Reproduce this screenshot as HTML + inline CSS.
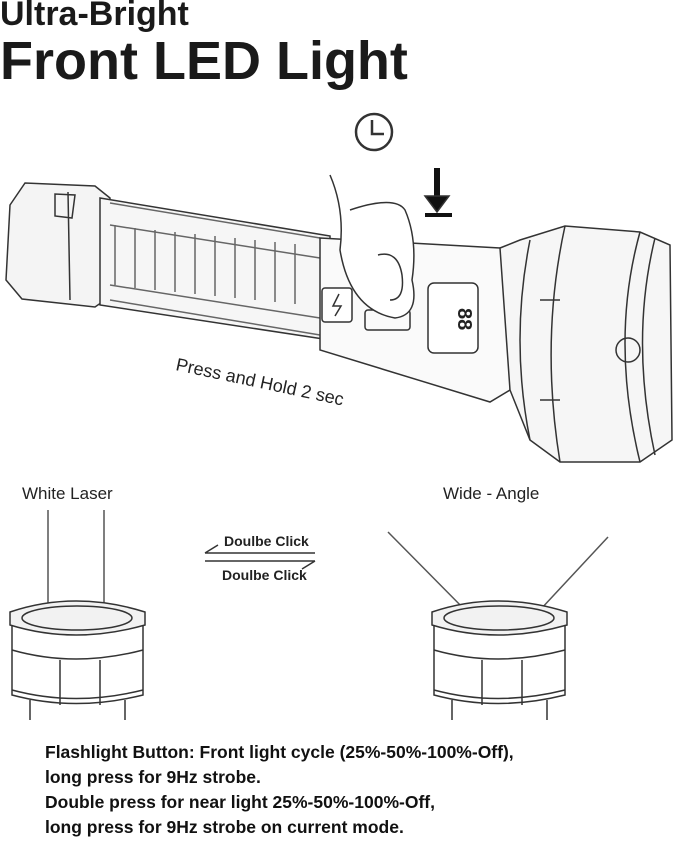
<!DOCTYPE html>
<html><head><style>
body{margin:0;background:#fff;width:679px;height:842px;overflow:hidden;font-family:"Liberation Sans",sans-serif}
.t{position:absolute;left:0;margin:0;font-weight:bold;color:#1a1a1a}
</style></head><body>
<div class="t" style="top:-5px;font-size:34px;">Ultra-Bright</div>
<div class="t" style="top:30px;font-size:54px;">Front LED Light</div>
<svg width="679" height="842" style="position:absolute;left:0;top:0" fill="none" stroke="#333" stroke-width="1.5">
<circle cx="374" cy="132" r="18" stroke-width="2.5"/>
<path d="M372 120 V134 H384" stroke-width="2.5"/>
<path d="M437 168 V200" stroke="#111" stroke-width="6"/>
<path d="M425 196 L437 212 L449 196Z" fill="#111"/>
<path d="M425 215 H452" stroke="#111" stroke-width="4"/>
<path d="M10 205 L25 183 L95 186 L110 198 L108 298 L95 307 L22 299 L6 280Z" fill="#f4f4f4"/>
<path d="M68 192 L70 300 M55 194 L55 216 L72 218 L75 195Z"/>
<path d="M100 198 L330 236 L330 340 L100 305Z" fill="#f6f6f6"/>
<g stroke="#666">
<path d="M110 203 L320 238 M110 225 L320 258 M110 285 L320 318 M110 300 L320 335"/>
<path d="M115 225 V285 M135 228 V288 M155 230 V290 M175 232 V292 M195 234 V294 M215 236 V296 M235 238 V298 M255 240 V300 M275 242 V302 M295 244 V304"/>
</g>
<path d="M320 238 L500 248 L520 260 L510 390 L490 402 L320 350Z" fill="#fafafa"/>
<rect x="428" y="283" width="50" height="70" rx="6" fill="#fff"/>
<text x="440" y="310" transform="rotate(90 450 318)" font-size="20" font-family="Liberation Sans" fill="#222" stroke="none" font-weight="bold">88</text>
<rect x="322" y="288" width="30" height="34" rx="3" fill="#fff"/>
<path d="M339 294 L333 306 L341 306 L335 316"/>
<rect x="365" y="310" width="45" height="20" rx="3"/>
<path d="M330 175 Q345 210 340 250 Q350 310 395 318 Q420 315 412 280 Q418 240 405 210 Q395 195 350 210" fill="#fff"/>
<path d="M378 255 Q398 250 402 275 Q405 300 390 300"/>
<path d="M500 248 L520 240 L565 226 L640 232 L670 245 L672 440 L640 462 L560 462 L530 440 L510 390Z" fill="#f6f6f6"/>
<path d="M530 240 Q510 340 530 440 M565 226 Q540 340 560 462"/>
<path d="M640 232 Q610 340 640 462 M655 238 Q630 340 655 455"/>
<circle cx="628" cy="350" r="12"/>
<path d="M540 300 L560 300 M540 400 L560 400"/>
</g>
<text x="175" y="370" transform="rotate(12 175 370)" font-size="18" fill="#222" stroke="none">Press and Hold 2 sec</text>
<text x="22" y="499" font-size="17" fill="#222" stroke="none">White Laser</text>
<text x="443" y="499" font-size="17" fill="#222" stroke="none">Wide - Angle</text>
<text x="224" y="546" font-size="14" font-weight="bold" fill="#222" stroke="none">Doulbe Click</text>
<path d="M205 553 H315 M205 553 L218 545"/>
<path d="M205 561 H315 M315 561 L302 569"/>
<text x="222" y="580" font-size="14" font-weight="bold" fill="#222" stroke="none">Doulbe Click</text>
<path d="M48 510 V610 M104 510 V610" stroke="#555"/>
<path d="M388 532 L470 615 M608 537 L540 610" stroke="#555"/>
<g id="h">
<path d="M10 612 Q75 590 145 612 L145 625 Q75 645 10 625Z" fill="#f2f2f2"/>
<ellipse cx="77" cy="618" rx="55" ry="12"/>
<path d="M12 625 V695 Q75 712 143 695 V625"/>
<path d="M12 650 Q75 668 143 650 M12 690 Q75 707 143 690 M60 660 V705 M100 660 V705"/>
<path d="M30 700 V720 M125 700 V720"/>
</g>
<use href="#h" transform="translate(422 0)"/>
</svg>
<div style="position:absolute;left:45px;top:740px;font-size:17.5px;font-weight:bold;line-height:25px;color:#111">Flashlight Button: Front light cycle (25%-50%-100%-Off),<br>long press for 9Hz strobe.<br>Double press for near light 25%-50%-100%-Off,<br>long press for 9Hz strobe on current mode.</div>
</body></html>
